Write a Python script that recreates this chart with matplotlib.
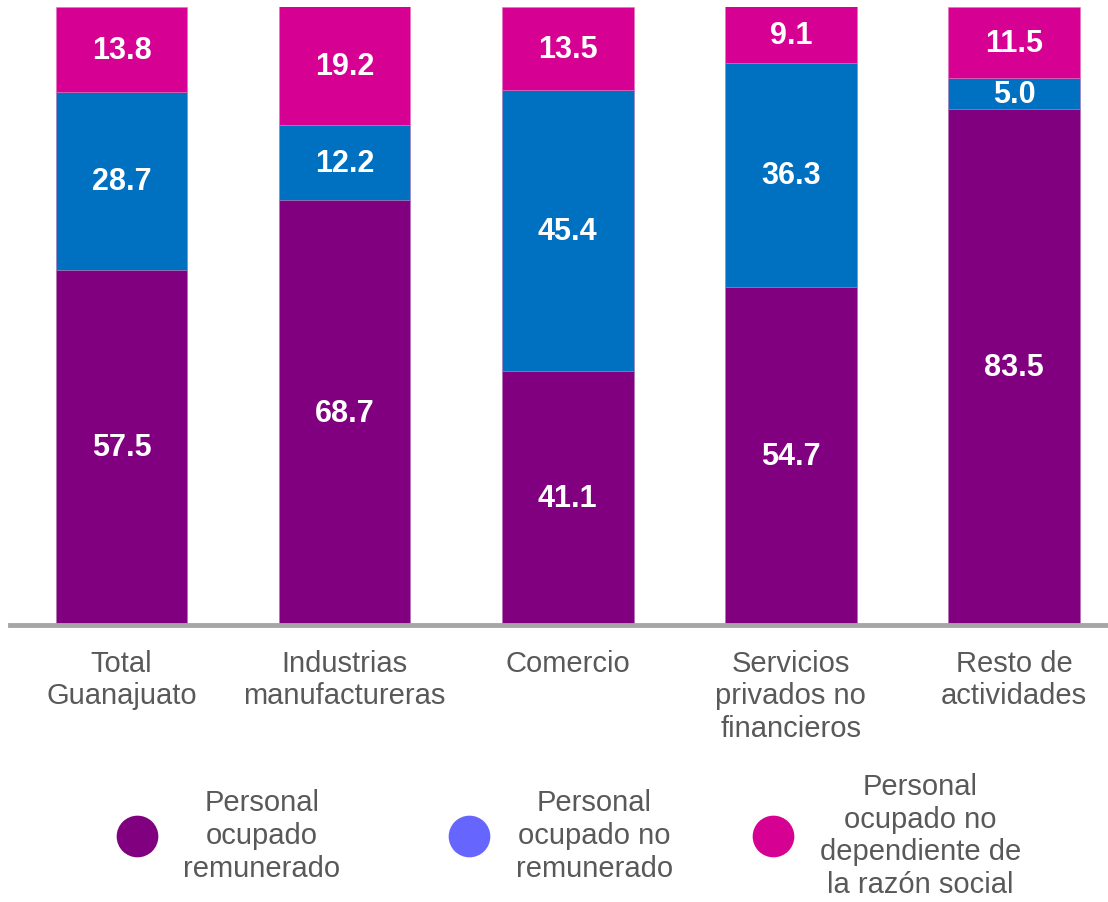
import matplotlib
matplotlib.use("Agg")
import matplotlib.pyplot as plt
from matplotlib.lines import Line2D

plt.rcParams['font.family'] = ['Liberation Sans', 'DejaVu Sans']

# Data
categorias = ["Total\nGuanajuato", "Industrias\nmanufactureras", "Comercio",
              "Servicios\nprivados no\nfinancieros", "Resto de\nactividades"]
remunerado = [57.5, 68.7, 41.1, 54.7, 83.5]
no_remunerado = [28.7, 12.2, 45.4, 36.3, 5.0]
no_dependiente = [13.8, 19.2, 13.5, 9.1, 11.5]
series_labels = ["Personal\nocupado\nremunerado",
                 "Personal\nocupado no\nremunerado",
                 "Personal\nocupado no\ndependiente de\nla razón social"]

c_purple = '#800080'
c_blue = '#0070C0'
c_magenta = '#D60093'
c_legend_blue = '#6666FF'
gray_text = '#595959'

W, H = 1108, 903
fig = plt.figure(figsize=(W / 100, H / 100), dpi=100)
ax = fig.add_axes([10 / W, (H - 626) / H, 1098 / W, (626 - 8) / H])

x = list(range(len(categorias)))
width = 0.59
bottom2 = [a + b for a, b in zip(remunerado, no_remunerado)]

ax.bar(x, remunerado, width, color=c_purple, edgecolor='#b070b0', linewidth=0.4)
ax.bar(x, no_remunerado, width, bottom=remunerado, color=c_blue, edgecolor='#b070b0', linewidth=0.4)
ax.bar(x, no_dependiente, width, bottom=bottom2, color=c_magenta, edgecolor='#e070c0', linewidth=0.4)

# value labels
for i in x:
    ax.text(i, remunerado[i] / 2, f"{remunerado[i]:.1f}", ha='center', va='center',
            color='white', fontsize=22, fontweight='bold')
    ax.text(i, remunerado[i] + no_remunerado[i] / 2, f"{no_remunerado[i]:.1f}", ha='center',
            va='center', color='white', fontsize=22, fontweight='bold')
    ax.text(i, bottom2[i] + no_dependiente[i] / 2, f"{no_dependiente[i]:.1f}", ha='center',
            va='center', color='white', fontsize=22, fontweight='bold')

ax.set_xlim(-0.5, -0.5 + 1098 / 223.1)
ax.set_ylim(0, 100)

for s in ['top', 'right', 'left']:
    ax.spines[s].set_visible(False)
ax.spines['bottom'].set_color('#A6A6A6')
ax.spines['bottom'].set_linewidth(3.5)
ax.set_yticks([])
ax.set_xticks(x)
ax.set_xticklabels(categorias, fontsize=21, color=gray_text, linespacing=1.21)
ax.tick_params(axis='x', length=0, pad=17)

# legend, one entry per series
leg_colors = [c_purple, c_legend_blue, c_magenta]
leg_centers = [228.5, 561, 887]
for col, lab, cx in zip(leg_colors, series_labels, leg_centers):
    h = Line2D([], [], marker='o', linestyle='none', markersize=29,
               markerfacecolor=col, markeredgecolor=col)
    leg = fig.legend([h], [lab], loc='center', bbox_to_anchor=(cx / W, (H - 836) / H),
                     frameon=False, fontsize=21, handlelength=1.4, handletextpad=0.9,
                     borderpad=0, borderaxespad=0)
    for t in leg.get_texts():
        t.set_color(gray_text)
        t.set_multialignment('center')
        t.set_linespacing(1.21)

fig.savefig("out.png", dpi=100)
